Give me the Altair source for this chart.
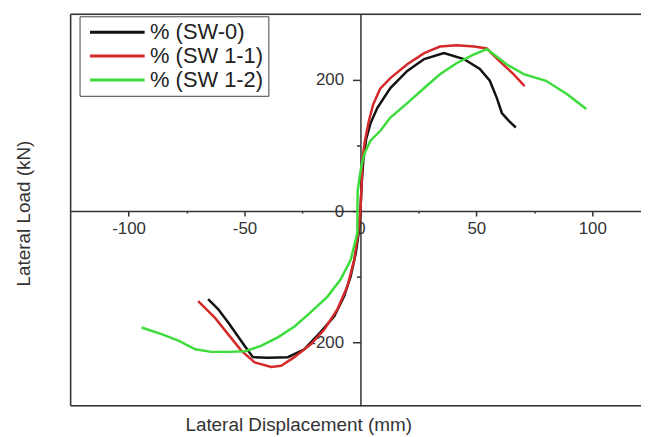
import altair as alt
import pandas as pd

series_names = ["% (SW-0)", "% (SW 1-1)", "% (SW 1-2)"]
series_colors = ["#111111", "#d42a2a", "#3ddc3d"]

sw0_x = [-65.7, -61.4, -57.1, -49.9, -46.4, -39.9, -31.3, -24.2, -17.2, -11.3, -7.0, -4.2, -2.0, -0.6, 0.0,
         0.5, 1.2, 2.5, 4.3, 7.3, 12.9, 20.2, 27.5, 36.0, 44.6, 51.5, 55.8, 58.8, 61.0, 64.0, 67.0]
sw0_y = [-134, -149, -169, -205, -222, -223, -222, -210, -184, -160, -129, -99, -64, -29, 0,
         40, 75, 110, 133, 157, 187, 213, 231, 240, 231, 216, 198, 172, 149, 137, 127]

sw11_x = [-70.0, -62.8, -57.1, -51.4, -45.6, -38.5, -34.2, -28.5, -21.3, -15.6, -9.9, -5.6, -2.7, -1.0, 0.0,
          0.5, 0.9, 2.0, 3.5, 5.5, 8.5, 12.9, 20.2, 27.5, 34.3, 41.6, 49.0, 54.5, 60.0, 66.0, 70.8]
sw11_y = [-137, -162, -187, -212, -230, -237, -235, -222, -202, -180, -149, -114, -74, -33, 0,
          40, 81, 108, 135, 162, 186, 202, 223, 240, 250, 252, 250, 247, 228, 208, 190]

sw12_x = [-94.4, -85.8, -78.5, -71.2, -64.4, -57.0, -49.8, -42.9, -35.6, -28.3, -21.5, -14.2, -8.6, -4.2, -1.3,
          -1.3, -1.2, -0.4, 0.5, 1.7, 4.3, 8.6, 12.9, 20.2, 27.5, 34.3, 41.6, 49.0, 54.5, 55.8, 63.0, 70.4,
          80.0, 89.0, 97.4]
sw12_y = [-177, -187, -197, -210, -214, -214, -213, -205, -192, -175, -154, -130, -104, -74, -33,
          0, 30, 51, 70, 87, 107, 122, 142, 164, 187, 208, 225, 238, 246, 243, 223, 208,
          198, 178, 155]

x_ticks = [-100, -75, -50, -25, 0, 25, 50, 75, 100]
y_ticks = [-200, -100, 0, 100, 200]

rows = []
for name, xs, ys in zip(series_names, [sw0_x, sw11_x, sw12_x], [sw0_y, sw11_y, sw12_y]):
    for i, (xv, yv) in enumerate(zip(xs, ys)):
        rows.append({"series": name, "disp": xv, "load": yv, "order": i})
df = pd.DataFrame(rows)

X_DOMAIN = [-125, 121]
Y_DOMAIN = [-296, 299]
W, H = 574, 394
x0_px = (0 - X_DOMAIN[0]) / (X_DOMAIN[1] - X_DOMAIN[0]) * W
y0_from_bottom = (0 - Y_DOMAIN[0]) / (Y_DOMAIN[1] - Y_DOMAIN[0]) * H

FONT = "Liberation Sans"
AX = "#333333"

x_axis = alt.Axis(
    orient="bottom", offset=-y0_from_bottom, values=x_ticks, grid=False,
    labelExpr="datum.value % 50 == 0 ? '' + datum.value : ''",
    tickSize={"condition": {"test": "datum.value % 50 != 0", "value": 2}, "value": 5},
    tickColor=AX, tickWidth=1.5, domainColor=AX, domainWidth=1.5,
    labelFont=FONT, labelFontSize=17, labelColor=AX, labelPadding=5,
    labelOverlap=False, labelFlush=False,
    title="Lateral Displacement (mm)", titleFont=FONT, titleFontSize=19,
    titleFontWeight="normal", titleColor=AX,
    titleX=300 - 71, titleY=426 - 211, titleBaseline="middle", titleAlign="center",
)
y_axis = alt.Axis(
    orient="left", offset=-x0_px, values=y_ticks, grid=False,
    labelExpr="datum.value % 200 == 0 ? '' + datum.value : ''",
    tickSize={"condition": {"test": "datum.value % 200 != 0", "value": 4}, "value": 8},
    tickColor=AX, tickWidth=1.5, domainColor=AX, domainWidth=1.5,
    labelFont=FONT, labelFontSize=17, labelColor=AX, labelPadding=9,
    labelOverlap=False, labelFlush=False,
    title="Lateral Load (kN)", titleFont=FONT, titleFontSize=19,
    titleFontWeight="normal", titleColor=AX,
    titleX=24 - (71 + x0_px), titleY=213 - 13, titleBaseline="middle", titleAlign="center",
)

lines = alt.Chart(df).mark_line(strokeWidth=2.5).encode(
    x=alt.X("disp:Q", scale=alt.Scale(domain=X_DOMAIN, nice=False, zero=False), axis=x_axis),
    y=alt.Y("load:Q", scale=alt.Scale(domain=Y_DOMAIN, nice=False, zero=False), axis=y_axis),
    color=alt.Color(
        "series:N",
        scale=alt.Scale(domain=series_names, range=series_colors),
        legend=alt.Legend(
            title=None, orient="none", legendX=9, legendY=2, direction="vertical",
            symbolType="M -1 0 L 9 0", symbolSize=121, symbolStrokeWidth=3, labelOffset=44,
            labelFont=FONT, labelFontSize=22, labelColor="#222222",
            strokeColor="#444444", fillColor="white", padding=5, rowPadding=2,
        ),
    ),
    order="order:Q",
)

one = pd.DataFrame({"a": [0]})
frame_top = alt.Chart(one).mark_rule(color=AX, strokeWidth=1.5).encode(
    x=alt.value(0), x2=alt.value(W), y=alt.value(0))
frame_left = alt.Chart(one).mark_rule(color=AX, strokeWidth=1.5).encode(
    x=alt.value(0), y=alt.value(0), y2=alt.value(H))
frame_bottom = alt.Chart(one).mark_rule(color=AX, strokeWidth=1.5).encode(
    x=alt.value(0), x2=alt.value(W), y=alt.value(H))

chart = alt.layer(frame_top, frame_left, frame_bottom, lines).properties(
    width=W, height=H,
    autosize=alt.AutoSizeParams(type="none"),
    padding={"left": 63, "top": 5, "right": 0, "bottom": 29},
).configure_view(stroke=None).configure(background="white")

chart.save("out.html", embed_options={"renderer": "svg", "actions": False})
